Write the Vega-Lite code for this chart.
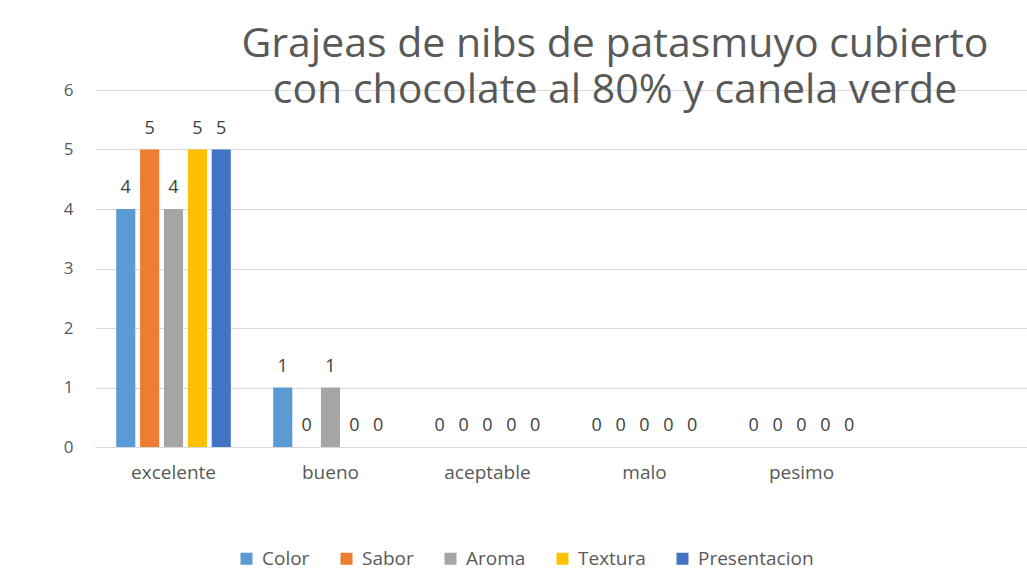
{
  "$schema": "https://vega.github.io/schema/vega-lite/v6.json",
  "width": 942,
  "height": 357,
  "autosize": "none",
  "padding": {"left": 95, "top": 90, "right": 0, "bottom": 136},
  "background": "white",
  "config": {
    "font": "'Open Sans', sans-serif",
    "view": {"stroke": null}
  },
  "title": {
    "text": ["Grajeas de nibs de patasmuyo cubierto", "con chocolate al 80% y canela verde"],
    "fontSize": 41,
    "fontWeight": "normal",
    "color": "#595959",
    "anchor": "middle",
    "frame": "group",
    "dx": 49,
    "baseline": "top",
    "offset": -31,
    "lineHeight": 46
  },
  "data": {
    "values": [
      {"cat": "excelente", "serie": "Color", "v": 4},
      {"cat": "excelente", "serie": "Sabor", "v": 5},
      {"cat": "excelente", "serie": "Aroma", "v": 4},
      {"cat": "excelente", "serie": "Textura", "v": 5},
      {"cat": "excelente", "serie": "Presentacion", "v": 5},
      {"cat": "bueno", "serie": "Color", "v": 1},
      {"cat": "bueno", "serie": "Sabor", "v": 0},
      {"cat": "bueno", "serie": "Aroma", "v": 1},
      {"cat": "bueno", "serie": "Textura", "v": 0},
      {"cat": "bueno", "serie": "Presentacion", "v": 0},
      {"cat": "aceptable", "serie": "Color", "v": 0},
      {"cat": "aceptable", "serie": "Sabor", "v": 0},
      {"cat": "aceptable", "serie": "Aroma", "v": 0},
      {"cat": "aceptable", "serie": "Textura", "v": 0},
      {"cat": "aceptable", "serie": "Presentacion", "v": 0},
      {"cat": "malo", "serie": "Color", "v": 0},
      {"cat": "malo", "serie": "Sabor", "v": 0},
      {"cat": "malo", "serie": "Aroma", "v": 0},
      {"cat": "malo", "serie": "Textura", "v": 0},
      {"cat": "malo", "serie": "Presentacion", "v": 0},
      {"cat": "pesimo", "serie": "Color", "v": 0},
      {"cat": "pesimo", "serie": "Sabor", "v": 0},
      {"cat": "pesimo", "serie": "Aroma", "v": 0},
      {"cat": "pesimo", "serie": "Textura", "v": 0},
      {"cat": "pesimo", "serie": "Presentacion", "v": 0}
    ]
  },
  "encoding": {
    "x": {
      "field": "cat",
      "type": "nominal",
      "sort": null,
      "scale": {"domain": ["excelente", "bueno", "aceptable", "malo", "pesimo", " "], "paddingInner": 0.27, "paddingOuter": 0.135},
      "axis": {
        "title": null,
        "labelAngle": 0,
        "labelFontSize": 19,
        "labelColor": "#595959",
        "labelPadding": 16,
        "ticks": false,
        "domainColor": "#D9D9D9",
        "domainWidth": 1
      }
    },
    "xOffset": {
      "field": "serie",
      "type": "nominal",
      "sort": ["Color", "Sabor", "Aroma", "Textura", "Presentacion"],
      "scale": {"paddingInner": 0.2, "paddingOuter": 0}
    },
    "y": {
      "field": "v",
      "type": "quantitative",
      "scale": {"domain": [0, 6]},
      "axis": {
        "title": null,
        "values": [0, 1, 2, 3, 4, 5, 6],
        "labelFontSize": 17,
        "labelColor": "#595959",
        "labelPadding": 22,
        "ticks": false,
        "domain": false,
        "gridColor": "#D9D9D9",
        "gridWidth": 1
      }
    }
  },
  "layer": [
    {
      "mark": {"type": "bar"},
      "encoding": {
        "color": {
          "field": "serie",
          "type": "nominal",
          "sort": ["Color", "Sabor", "Aroma", "Textura", "Presentacion"],
          "scale": {
            "domain": ["Color", "Sabor", "Aroma", "Textura", "Presentacion"],
            "range": ["#5B9BD5", "#ED7D31", "#A5A5A5", "#FFC000", "#4472C4"]
          },
          "legend": {
            "title": null,
            "orient": "none",
            "direction": "horizontal",
            "legendX": 142,
            "legendY": 459,
            "symbolType": "square",
            "symbolSize": 144,
            "symbolStrokeWidth": 0,
            "labelFontSize": 19,
            "labelColor": "#595959",
            "labelOffset": 6,
            "columnPadding": 27
          }
        }
      }
    },
    {
      "mark": {"type": "text", "baseline": "middle", "dy": -21, "fontSize": 18, "color": "#404040"},
      "encoding": {"text": {"field": "v", "type": "quantitative"}}
    }
  ]
}
